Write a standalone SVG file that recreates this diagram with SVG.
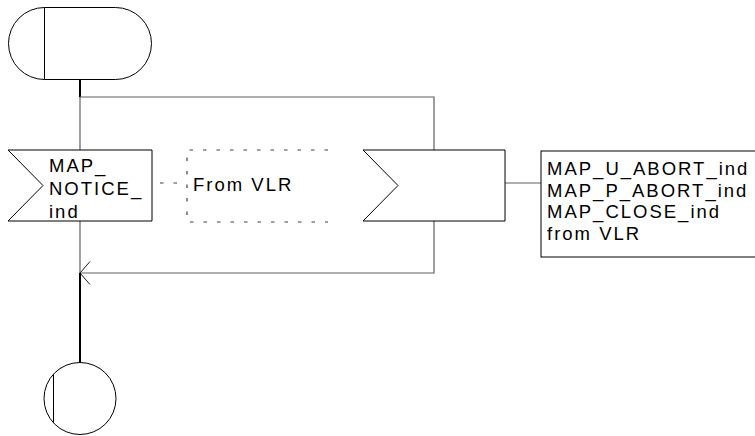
<svg xmlns="http://www.w3.org/2000/svg" width="755" height="436" viewBox="0 0 755 436">
<style>
.sym{fill:#fff;stroke:#000;stroke-width:1}
.con{fill:none;stroke:#606060;stroke-width:1.2}
.arr{fill:none;stroke:#202020;stroke-width:1}
.bold{fill:none;stroke:#000;stroke-width:2}
.dash{fill:none;stroke:#404040;stroke-width:1.2;stroke-dasharray:3.5 10}
.t{font-family:"Liberation Sans",Arial,sans-serif;font-size:18.5px;letter-spacing:2px;fill:#000}
</style>
<rect width="755" height="436" fill="#fff"/>
<g id="connectors">
<path class="bold" d="M80,80 V97"/>
<path class="con" d="M80,97 H434 V150"/>
<path class="con" d="M80,97 V150"/>
<path class="con" d="M80,221 V273"/>
<path class="con" d="M434,221 V273 H80"/>
<path class="arr" d="M90,261.5 L80,273 L90,284.5"/>
<path class="bold" d="M80,273 V362"/>
<path class="con" d="M505,183 H541"/>
<path class="dash" d="M160,183 H187"/>
</g>
<g id="start">
<path class="sym" d="M44.5,7.5 H115.5 A36,36 0 0 1 115.5,79.5 H44.5 A36,36 0 0 1 44.5,7.5 Z"/>
<path class="sym" d="M44.5,7.5 V79.5"/>
</g>
<g id="input_notice">
<polygon class="sym" points="8,150 152,150 152,221 8,221 43,185.5"/>
<text class="t" x="49" y="172">MAP_</text>
<text class="t" x="49" y="195">NOTICE_</text>
<text class="t" x="49" y="218">ind</text>
</g>
<g id="comment_vlr">
<path class="dash" d="M328,150 H187 V222 H328"/>
<text class="t" x="193" y="191">From VLR</text>
</g>
<g id="input_abort">
<polygon class="sym" points="363,150 505,150 505,221 363,221 398,185.5"/>
</g>
<g id="comment_abort">
<rect class="sym" x="541" y="151" width="220" height="106"/>
<text class="t" x="547" y="175">MAP_U_ABORT_ind</text>
<text class="t" x="547" y="197">MAP_P_ABORT_ind</text>
<text class="t" x="547" y="218">MAP_CLOSE_ind</text>
<text class="t" x="547" y="240">from VLR</text>
</g>
<g id="end">
<circle class="sym" cx="80" cy="398.5" r="36"/>
<path class="sym" d="M53.5,374.5 V422.5"/>
</g>
</svg>
